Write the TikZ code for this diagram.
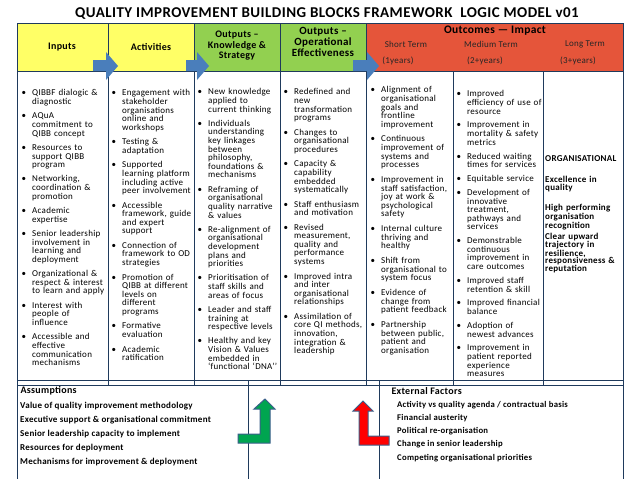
\documentclass[tikz,border=0pt]{standalone}
\usepackage{fontspec}
\setmainfont{Carlito}[LetterSpace=3]
\usepackage{enumitem}
\usetikzlibrary{positioning}
\definecolor{frame}{HTML}{1F3A5C}
\definecolor{inyellow}{HTML}{FFFF66}
\definecolor{outgreen}{HTML}{92D050}
\definecolor{outred}{HTML}{E5553A}
\definecolor{flowblue}{HTML}{4A7EBB}
\definecolor{upgreen}{HTML}{00A550}
\definecolor{upred}{HTML}{FF0000}
\definecolor{edgeblue}{HTML}{3A5F8A}
\newlist{blocks}{itemize}{1}
\setlist[blocks]{label=\textbullet,leftmargin=11pt,labelsep=6pt,itemsep=5.7pt,parsep=0pt,topsep=0pt,partopsep=0pt}

\begin{document}
\begin{tikzpicture}[x=1pt,y=-1pt,
    hdr/.style={font=\bfseries\fontsize{10}{10.5}\selectfont,align=center},
    bighdr/.style={font=\bfseries\fontsize{11}{11.2}\selectfont,align=center},
    term/.style={font=\fontsize{9}{10}\selectfont,text=black!85},
    col/.style={anchor=north west,inner sep=0pt,text width=100pt,align=left,font=\fontsize{9}{8.6}\selectfont},
    longcol/.style={anchor=north west,inner sep=0pt,text width=80pt,align=left,font=\bfseries\fontsize{9}{7.8}\selectfont},
    frameline/.style={frame,line width=0.8pt},
    upbox/.style={draw=edgeblue,line width=1pt}]
  \useasboundingbox (0,0) rectangle (638,479);
  \fill[white] (0,0) rectangle (638,479);

  % title
  \node[font=\bfseries\fontsize{15}{17}\selectfont] (title) at (327,14)
    {QUALITY IMPROVEMENT BUILDING BLOCKS FRAMEWORK\ \ LOGIC MODEL v01};

  % header cells
  \fill[inyellow] (17,23) rectangle (194,71);
  \fill[outgreen] (194,23) rectangle (366,71);
  \fill[outred] (366,23) rectangle (623,71);

  % grid
  \draw[frameline] (17,23) rectangle (623,380);
  \draw[frameline] (17,71) -- (623,71);
  \foreach \x in {108,194,280,366} \draw[frameline] (\x,23) -- (\x,385);
  \foreach \x in {453,543} \draw[frameline] (\x,71) -- (\x,385);
  \draw[frameline] (17,380) -- (17,479) (623,380) -- (623,479);
  \draw[frameline] (17,385) -- (623,385);
  \foreach \x in {248,379} \draw[frameline] (\x,380) -- (\x,479);

  % flow arrows
  \foreach \xa/\xb in {93/106,186/197,353/367}
    \fill[flowblue] (\xa,60) -- (\xb,60) -- (\xb,52) -- (\xb+12,66) -- (\xb,80) -- (\xb,71) -- (\xa,71) -- cycle;

  % header texts
  \node[hdr] (inputs) at (62,47) {Inputs};
  \node[hdr] (activities) at (151,47) {Activities};
  \node[hdr] (knowledge) at (237,46) {Outputs --\\Knowledge \&\\Strategy};
  \node[bighdr] (operational) at (323,42) {Outputs --\\Operational\\Effectiveness};
  \node[bighdr,font=\bfseries\fontsize{11.5}{12}\selectfont] (outcomes) at (495,31) {Outcomes --- Impact};
  \node[term] (short) at (406,44) {Short Term};
  \node[term] (shortyr) at (398,61) {(1years)};
  \node[term] (medium) at (491,44) {Medium Term};
  \node[term] (mediumyr) at (485,61) {(2+years)};
  \node[term] (long) at (585,44) {Long Term};
  \node[term] (longyr) at (578,61) {(3+years)};

  % columns
  \node[col] (inlist) at (21,87) {\begin{blocks}[itemsep=5.8pt]
    \item QIBBF dialogic \&\\diagnostic
    \item AQuA\\commitment to\\QIBB concept
    \item Resources to\\support QIBB\\program
    \item Networking,\\coordination \&\\promotion
    \item Academic\\expertise
    \item Senior leadership\\involvement in\\learning and\\deployment
    \item Organizational \&\\respect \& interest\\to learn and apply
    \item Interest with\\people of\\influence
    \item Accessible and\\effective\\communication\\mechanisms
  \end{blocks}};
  \node[col] (actlist) at (111,87) {\begin{blocks}[itemsep=5.9pt]
    \item Engagement with\\stakeholder\\organisations\\online and\\workshops
    \item Testing \&\\adaptation
    \item Supported\\learning platform\\including active\\peer involvement
    \item Accessible\\framework, guide\\and expert\\support
    \item Connection of\\framework to OD\\strategies
    \item Promotion of\\QIBB at different\\levels on\\different\\programs
    \item Formative\\evaluation
    \item Academic\\ratification
  \end{blocks}};
  \node[col] (knowlist) at (197,86) {\begin{blocks}[itemsep=5.7pt]
    \item New knowledge\\applied to\\current thinking
    \item Individuals\\understanding\\key linkages\\between\\philosophy,\\foundations \&\\mechanisms
    \item Reframing of\\organisational\\quality narrative\\\& values
    \item Re-alignment of\\organisational\\development\\plans and\\priorities
    \item Prioritisation of\\staff skills and\\areas of focus
    \item Leader and staff\\training at\\respective levels
    \item Healthy and key\\Vision \& Values\\embedded in\\‘functional ‘DNA’’
  \end{blocks}};
  \node[col] (operlist) at (283,86) {\begin{blocks}[itemsep=5.9pt]
    \item Redefined and\\new\\transformation\\programs
    \item Changes to\\organisational\\procedures
    \item Capacity \&\\capability\\embedded\\systematically
    \item Staff enthusiasm\\and motivation
    \item Revised\\measurement,\\quality and\\performance\\systems
    \item Improved intra\\and inter\\organisational\\relationships
    \item Assimilation of\\core QI methods,\\innovation,\\integration \&\\leadership
  \end{blocks}};
  \node[col] (shortlist) at (370,84) {\begin{blocks}[itemsep=6.2pt]
    \item Alignment of\\organisational\\goals and\\frontline\\improvement
    \item Continuous\\improvement of\\systems and\\processes
    \item Improvement in\\staff satisfaction,\\joy at work \&\\psychological\\safety
    \item Internal culture\\thriving and\\healthy
    \item Shift from\\organisational to\\system focus
    \item Evidence of\\change from\\patient feedback
    \item Partnership\\between public,\\patient and\\organisation
  \end{blocks}};
  \node[col] (mediumlist) at (456,88) {\begin{blocks}[itemsep=5.3pt]
    \item Improved\\efficiency of use of\\resource
    \item Improvement in\\mortality \& safety\\metrics
    \item Reduced waiting\\times for services
    \item Equitable service
    \item Development of\\innovative\\treatment,\\pathways and\\services
    \item Demonstrable\\continuous\\improvement in\\care outcomes
    \item Improved staff\\retention \& skill
    \item Improved financial\\balance
    \item Adoption of\\newest advances
    \item Improvement in\\patient reported\\experience\\measures
  \end{blocks}};

  % long term
  \node[longcol] (organisational) at (545,155) {ORGANISATIONAL};
  \node[longcol] (excellence) at (545,176) {Excellence in\\quality};
  \node[longcol] (recognition) at (545,204) {High performing\\organisation\\recognition};
  \node[longcol] (trajectory) at (545,233) {Clear upward\\trajectory in\\resilience,\\responsiveness \&\\reputation};

  % assumptions and external factors
  \node[anchor=west,font=\bfseries\fontsize{10}{12}\selectfont] (assume) at (17,391) {Assumptions};
  \node[anchor=north west,inner sep=0pt,align=left,font=\bfseries\fontsize{9}{14}\selectfont] (assumelist) at (20,401.5)
    {Value of quality improvement methodology\\Executive support \& organisational commitment\\Senior leadership capacity to implement\\Resources for deployment\\Mechanisms for improvement \& deployment};
  \node[anchor=west,font=\bfseries\fontsize{10}{12}\selectfont] (external) at (388,391) {External Factors};
  \node[anchor=north west,inner sep=0pt,align=left,font=\bfseries\fontsize{8.7}{13.2}\selectfont] (externallist) at (397,401)
    {Activity vs quality agenda / contractual basis\\Financial austerity\\Political re-organisation\\Change in senior leadership\\Competing organisational priorities};

  % up arrows
  \filldraw[upbox,fill=upgreen] (238,443) -- (270,443) -- (270,409) -- (275,409) -- (265,399) -- (254,409) -- (260,409) -- (260,434) -- (238,434) -- cycle;
  \filldraw[upbox,fill=upred] (359,445) -- (389,445) -- (389,436) -- (368,436) -- (368,411) -- (373,411) -- (363,401) -- (353,411) -- (359,411) -- cycle;
\end{tikzpicture}
\end{document}
